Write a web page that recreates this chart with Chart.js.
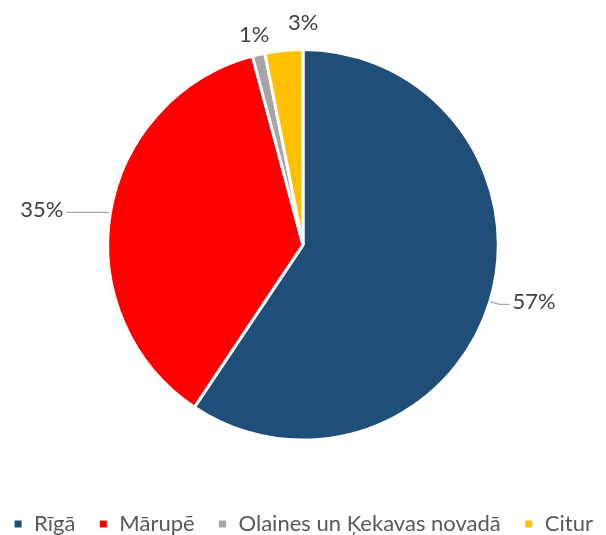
<!DOCTYPE html>
<html>
<head>
<meta charset="utf-8">
<script src="https://cdn.jsdelivr.net/npm/chart.js@4"></script>
<style>
  html, body { margin: 0; padding: 0; background: #fff; }
  #wrap { width: 606px; height: 535px; }
</style>
</head>
<body>
<div id="wrap"><canvas id="pieChart"></canvas></div>
<script>
const categories = ['Rīgā', 'Mārupē', 'Olaines un Ķekavas novadā', 'Citur'];
const shares = [57, 35, 1, 3];
const sliceColors = ['#1F4E79', '#FF0000', '#A5A5A5', '#FFC000'];

// label placement: distance beyond the rim, leader run, text alignment
const labelPlacement = [
  { dist: 10, run: 10, line: true },
  { dist: 4, run: 40, line: true },
  { dist: 20, line: false, align: 'center', nudge: 0 },
  { dist: 28, line: false, align: 'left', nudge: 7 }
];

const pieLabels = {
  id: 'pieLabels',
  afterDatasetsDraw(chart) {
    const ctx = chart.ctx;
    const meta = chart.getDatasetMeta(0);
    ctx.save();
    ctx.font = '22px Lato';
    ctx.fillStyle = '#404040';
    ctx.strokeStyle = '#A6A6A6';
    ctx.lineWidth = 1.3;
    meta.data.forEach((arc, i) => {
      const p = arc.getProps(['x', 'y', 'startAngle', 'endAngle', 'outerRadius'], true);
      const mid = (p.startAngle + p.endAngle) / 2;
      const dx = Math.cos(mid), dy = Math.sin(mid);
      const text = shares[i] + '%';
      const place = labelPlacement[i];
      ctx.textBaseline = 'middle';
      if (place.line) {
        const side = dx >= 0 ? 1 : -1;
        const x0 = p.x + dx * (p.outerRadius + 1), y0 = p.y + dy * (p.outerRadius + 1);
        const x1 = p.x + dx * (p.outerRadius + place.dist), y1 = p.y + dy * (p.outerRadius + place.dist);
        const x2 = x1 + side * place.run;
        ctx.beginPath();
        ctx.moveTo(x0, y0);
        ctx.lineTo(x1, y1);
        ctx.lineTo(x2, y1);
        ctx.stroke();
        ctx.textAlign = side > 0 ? 'left' : 'right';
        ctx.fillText(text, x2 + side * 3, y1 - 2);
      } else {
        ctx.textAlign = place.align;
        ctx.fillText(text, p.x + dx * (p.outerRadius + place.dist) + place.nudge, p.y + dy * (p.outerRadius + place.dist));
      }
    });
    ctx.restore();
  }
};

new Chart(document.getElementById('pieChart'), {
  type: 'pie',
  data: {
    labels: categories,
    datasets: [{
      data: shares,
      backgroundColor: sliceColors,
      borderColor: '#fff',
      borderWidth: 3
    }]
  },
  options: {
    responsive: true,
    maintainAspectRatio: false,
    animation: false,
    layout: { padding: { top: 48, bottom: -10, left: -12, right: -12 } },
    plugins: {
      tooltip: { enabled: false },
      legend: {
        position: 'bottom',
        title: { display: true, text: '', padding: { top: 34, bottom: 0 } },
        labels: {
          boxWidth: 10,
          boxHeight: 10,
          padding: 23,
          color: '#595959',
          font: { family: 'Lato', size: 22 }
        }
      }
    }
  },
  plugins: [pieLabels]
});
</script>
</body>
</html>
